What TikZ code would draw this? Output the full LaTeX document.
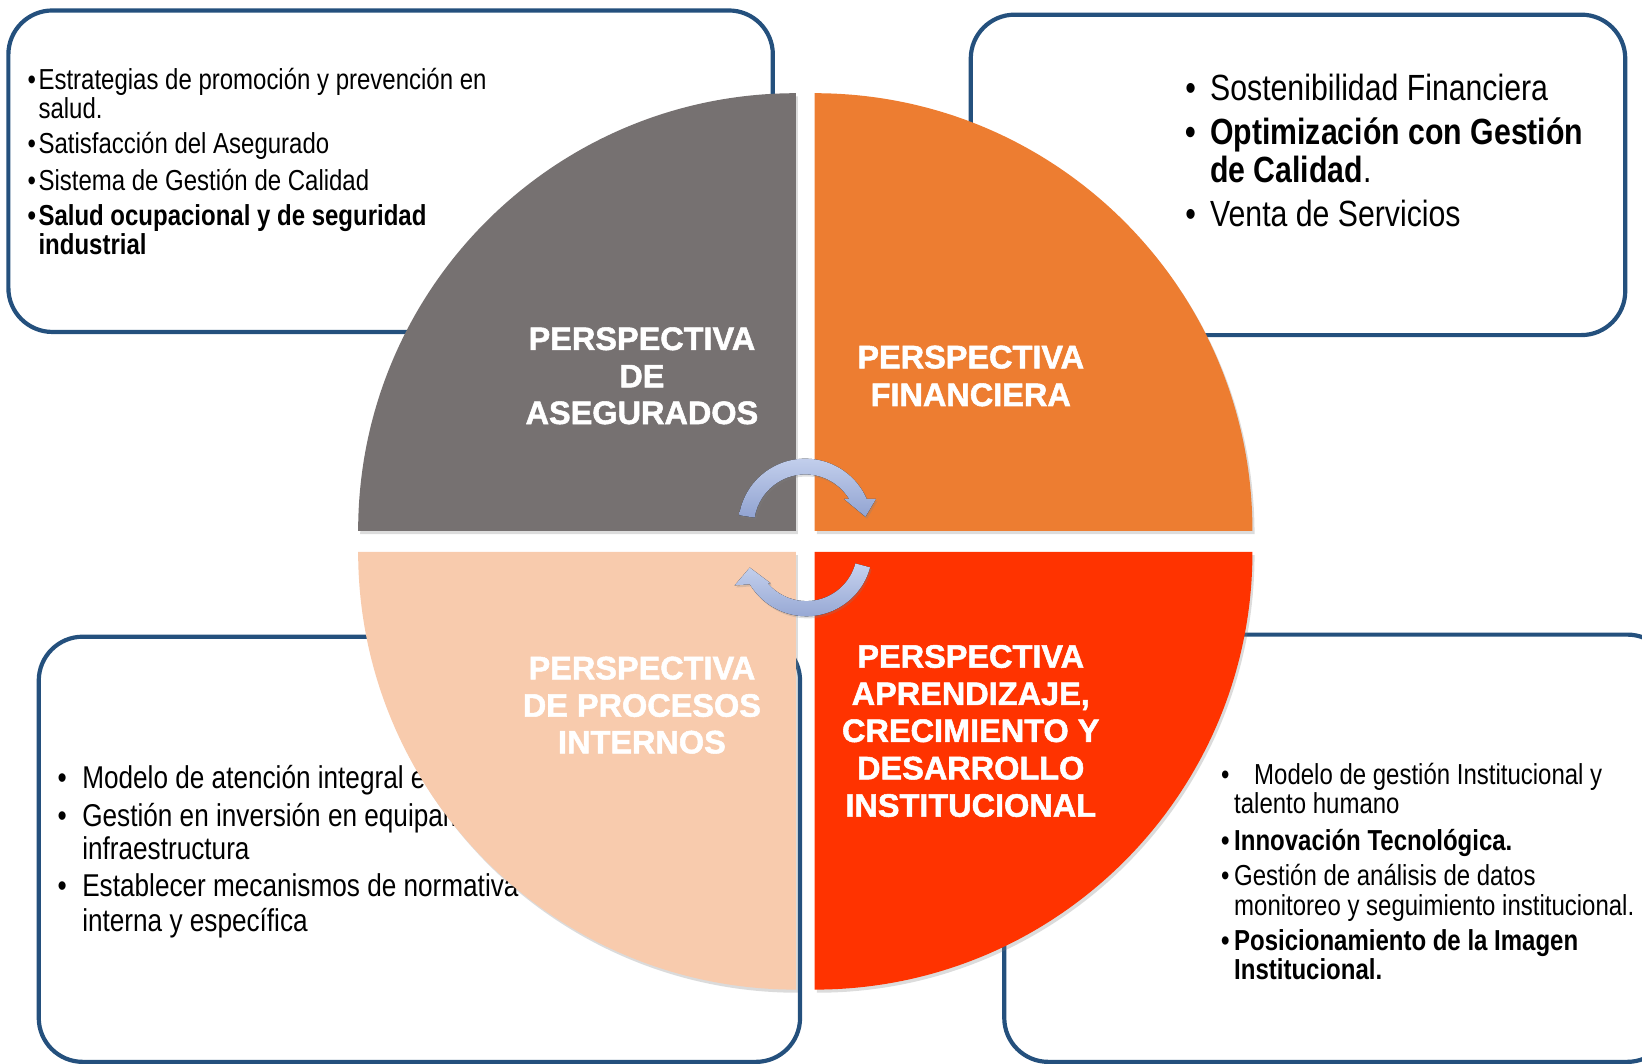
\documentclass[tikz,border=0pt]{standalone}
\usepackage{fontspec}
\setmainfont{Liberation Sans}
\newfontfamily\nar[FakeStretch=0.83]{Liberation Sans}
\newfontfamily\lbl[FakeBold=1.6]{Liberation Sans}
\usetikzlibrary{calc,shadows}
\definecolor{boxblue}{RGB}{36,80,125}
\definecolor{qgrey}{RGB}{118,113,113}
\definecolor{qorange}{RGB}{237,125,49}
\definecolor{qpeach}{RGB}{248,203,173}
\definecolor{qred}{RGB}{255,51,0}
\definecolor{arrtop}{RGB}{198,210,238}
\definecolor{arrbot}{RGB}{145,163,209}
\newcommand{\bul}[1]{\llap{•\kern#1pt}}
\begin{document}
\begin{tikzpicture}[x=1pt,y=-1pt,
  panel/.style={draw=boxblue, line width=4pt, fill=white, rounded corners=42pt},
  quad/.style={drop shadow={shadow xshift=2pt, shadow yshift=-3pt, opacity=0.28}},
  txtS/.style={anchor=base west, inner sep=0pt, text=black, font=\nar\fontsize{27.6}{28}\selectfont},
  txtL/.style={anchor=base west, inner sep=0pt, text=black, font=\nar\fontsize{34.8}{36}\selectfont},
  txtM/.style={anchor=base west, inner sep=0pt, text=black, font=\nar\fontsize{30.1}{32}\selectfont},
  lab/.style={anchor=base, inner sep=0pt, text=white, font=\lbl\bfseries\fontsize{31}{34}\selectfont},
  arr/.style={top color=arrtop, bottom color=arrbot, drop shadow={shadow xshift=1.5pt, shadow yshift=-2pt, opacity=0.25}}
]
\useasboundingbox (0,0) rectangle (1568,1016);
\clip (0,0) rectangle (1568,1016);

% panels
\draw[panel] (8,10) rectangle (738,317);
\draw[panel] (927,14) rectangle (1552,320);
\draw[panel] (37,608) rectangle (764,1014);
\draw[panel] (959,606) rectangle (1596,1014);

% top-left text
\node[txtS] (tl1) at (36.6,85.3) {\bul{2.5}Estrategias de promoción y prevención en};
\node[txtS] (tl2) at (36.6,113.6) {salud.};
\node[txtS] (tl3) at (36.6,147) {\bul{2.5}Satisfacción del Asegurado};
\node[txtS] (tl4) at (36.6,182) {\bul{2.5}Sistema de Gestión de Calidad};
\node[txtS] (tl5) at (36.6,215.8) {\bfseries\bul{2.5}Salud ocupacional y de seguridad};
\node[txtS] (tl6) at (36.6,243.5) {\bfseries industrial};

% top-right text
\node[txtL] (tr1) at (1155.4,95.5) {\bul{13.5}Sostenibilidad Financiera};
\node[txtL] (tr2) at (1155.4,137.8) {\bfseries\bul{13.5}Optimización con Gestión};
\node[txtL] (tr3) at (1155.4,174.4) {\textbf{de Calidad}.};
\node[txtL] (tr4) at (1155.4,216.5) {\bul{13.5}Venta de Servicios};

% bottom-left text
\node[txtM] (bl1) at (78.4,752.8) {\bul{14.9}Modelo de atención integral en};
\node[txtM] (bl2) at (78.4,789.4) {\bul{14.9}Gestión en inversión en equipamiento};
\node[txtM] (bl3) at (78.4,820.6) {infraestructura};
\node[txtM] (bl4) at (78.4,856.3) {\bul{14.9}Establecer mecanismos de normativa};
\node[txtM] (bl5) at (78.4,889.7) {interna y específica};

% bottom-right text
\node[txtS] (br1) at (1197.5,749.6) {\bul{23.5}Modelo de gestión Institucional y};
\node[txtS] (br2) at (1178.4,777.3) {talento humano};
\node[txtS] (br3) at (1178.4,811.7) {\bfseries\bul{4.4}Innovación Tecnológica.};
\node[txtS] (br4) at (1178.4,845.7) {\bul{4.4}Gestión de análisis de datos};
\node[txtS] (br5) at (1178.4,873.8) {monitoreo y seguimiento institucional.};
\node[txtS] (br6) at (1178.4,908.1) {\bfseries\bul{4.4}Posicionamiento de la Imagen};
\node[txtS] (br7) at (1178.4,935.8) {\bfseries Institucional.};

% quadrants
\fill[qgrey, quad] (760,507) -- (342,507) arc[start angle=180, end angle=270, radius=418] -- cycle;
\fill[qorange, quad] (778,507) -- (778,89) arc[start angle=270, end angle=360, radius=418] -- cycle;
\fill[qpeach, quad] (760,527) -- (760,945) arc[start angle=90, end angle=180, radius=418] -- cycle;
\fill[qred, quad] (778,527) -- (1196,527) arc[start angle=0, end angle=90, radius=418] -- cycle;

% labels
\node[lab] (a1) at (613,334.2) {PERSPECTIVA};
\node[lab] (a2) at (613,369.9) {DE};
\node[lab] (a3) at (613,404.9) {ASEGURADOS};
\node[lab] (b1) at (927,351.7) {PERSPECTIVA};
\node[lab] (b2) at (927,387.7) {FINANCIERA};
\node[lab] (c1) at (613,648.7) {PERSPECTIVA};
\node[lab] (c2) at (613,684.4) {DE PROCESOS};
\node[lab] (c3) at (613,719.4) {INTERNOS};
\node[lab] (d1) at (927,637.6) {PERSPECTIVA};
\node[lab] (d2) at (927,673.2) {APRENDIZAJE,};
\node[lab] (d3) at (927,708.5) {CRECIMIENTO Y};
\node[lab] (d4) at (927,744.2) {DESARROLLO};
\node[lab] (d5) at (927,779.9) {INSTITUCIONAL};

% cycle arrows
\coordinate (ca) at (769,502);
\coordinate (cb) at (770,525.5);
\fill[arr] ($(ca)+(189:64)$) arc[start angle=189, end angle=336.5, radius=64]
  -- (836.5,476.5) -- (826.5,493.5) -- (806,476.5)
  -- ($(ca)+(328.6:49)$) arc[start angle=328.6, end angle=189, radius=49] -- cycle;
\fill[arr] ($(cb)+(15:63)$) arc[start angle=15, end angle=149, radius=63]
  -- (701.5,559) -- (716,542) -- (736,557)
  -- ($(cb)+(139.5:48.5)$) arc[start angle=139.5, end angle=15, radius=48.5] -- cycle;
\end{tikzpicture}
\end{document}
